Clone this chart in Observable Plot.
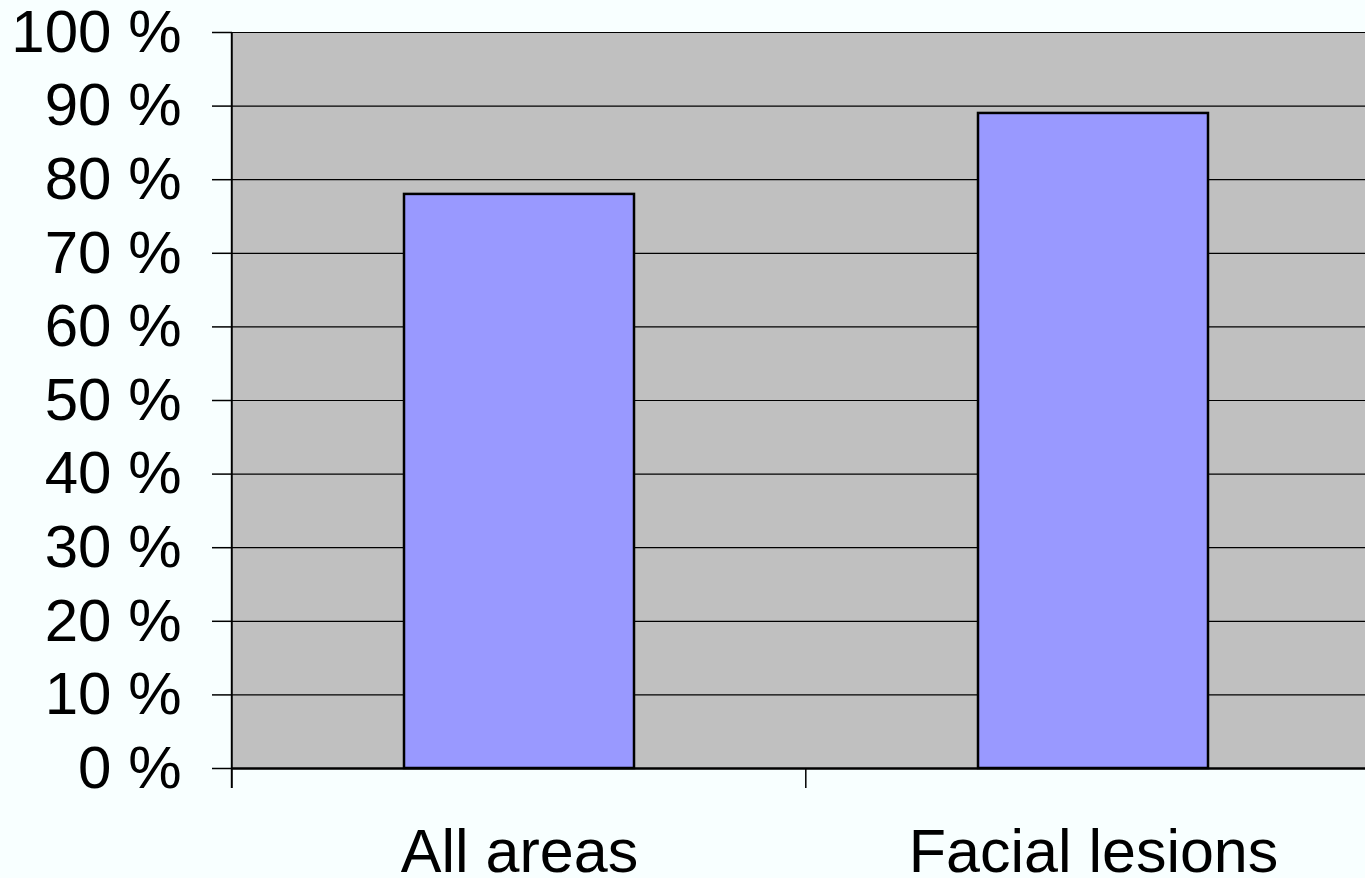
<!DOCTYPE html>
<html>
<head>
<meta charset="utf-8">
<script src="https://cdn.jsdelivr.net/npm/d3@7"></script>
<script src="https://cdn.jsdelivr.net/npm/@observablehq/plot@0.6"></script>
<style>
  html, body { margin: 0; padding: 0; background: #f8ffff; overflow: hidden; }
  #chart svg { display: block; }
</style>
</head>
<body>
<div id="chart"></div>
<script>
const categories = ["All areas", "Facial lesions"];
const values = [78, 89];
const yTicks = [0, 10, 20, 30, 40, 50, 60, 70, 80, 90, 100];
const tickLabel = d => d + " %";

const data = categories.map((c, i) => ({category: c, value: values[i]}));

const padInner = 0.6, padOuter = 0.3;

// boundary ticks between categories + left axis line, computed from scales
function boundaryTicks(index, scales, channels, dimensions) {
  const x = scales.x, y = scales.y;
  const step = x(categories[1]) - x(categories[0]);
  const bounds = categories.map(c => x(c) - padOuter * step);
  bounds.push(x(categories[categories.length - 1]) + (1 - padOuter) * step);
  const g = d3.create("svg:g");
  const y0 = y(0), yTop = y(100);
  g.append("line").attr("x1", bounds[0]).attr("x2", bounds[0])
    .attr("y1", yTop).attr("y2", y0 + 20)
    .attr("stroke", "black").attr("stroke-width", 2);
  bounds.slice(1).forEach(b => {
    g.append("line").attr("x1", b).attr("x2", b)
      .attr("y1", y0).attr("y2", y0 + 20)
      .attr("stroke", "black").attr("stroke-width", 1.5);
  });
  return g.node();
}

const chart = Plot.plot({
  width: 1365,
  height: 878,
  marginLeft: 232,
  marginRight: 0,
  marginTop: 32,
  marginBottom: 110,
  style: {background: "#f8ffff", fontFamily: "'Liberation Sans', Arial, sans-serif", color: "black", overflow: "visible"},
  x: {domain: categories, range: [232, 1380], paddingInner: padInner, paddingOuter: padOuter, axis: null},
  y: {domain: [0, 100], axis: null},
  marks: [
    Plot.frame({fill: "#c0c0c0", stroke: null}),
    Plot.ruleY(yTicks, {stroke: "#000", strokeWidth: 1.2}),
    Plot.barY(data, {x: "category", y: "value", fill: "#9999ff", stroke: "black", strokeWidth: 2.5}),
    Plot.ruleY([0], {stroke: "black", strokeWidth: 2.5}),
    Plot.axisY({ticks: yTicks, tickSize: 20, tickPadding: 31, fontSize: 60, tickFormat: tickLabel, stroke: "black", strokeWidth: 1.5, label: null}),
    Plot.axisX({tickSize: 0, tickPadding: 60, fontSize: 61, label: null}),
    boundaryTicks
  ]
});
document.getElementById("chart").appendChild(chart);
</script>
</body>
</html>
